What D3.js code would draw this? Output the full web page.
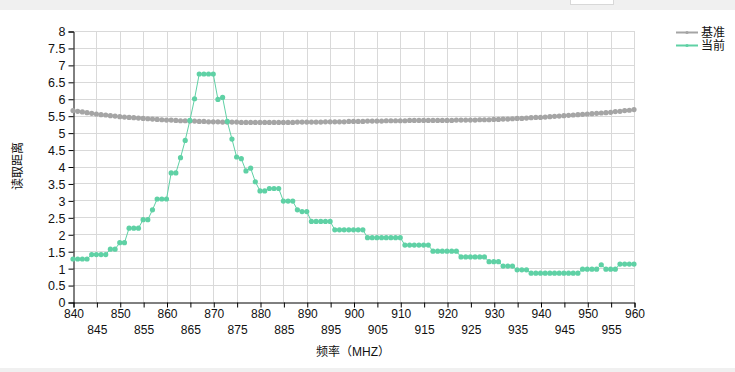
<!DOCTYPE html>
<html><head><meta charset="utf-8">
<script src="https://cdn.jsdelivr.net/npm/d3@7/dist/d3.min.js"></script>
<style>
html,body{margin:0;padding:0;background:#fff;}
svg{display:block;}
text{font-family:"Liberation Sans","Noto Sans CJK SC",sans-serif;}
</style></head>
<body><svg id="c" width="735" height="372"></svg>
<script>
const freqStart = 840, freqEnd = 960;
const seriesNames = ["基准", "当前"];
const seriesColors = ["#a5a5a5", "#5fd1a5"];
const yTicks = d3.range(0, 8.001, 0.5);
const xTicks = d3.range(840, 960.001, 5);
const xTitle = "频率（MHZ）";
const yTitle = "读取距离";

const baseline = [
5.65,5.63,5.61,5.59,5.57,5.55,5.53,5.52,5.50,5.49,
5.47,5.46,5.45,5.44,5.43,5.42,5.41,5.40,5.39,5.38,
5.37,5.37,5.36,5.35,5.35,5.34,5.34,5.33,5.33,5.32,
5.32,5.32,5.31,5.31,5.31,5.31,5.30,5.30,5.30,5.30,
5.30,5.30,5.30,5.30,5.30,5.30,5.30,5.30,5.31,5.31,
5.31,5.31,5.31,5.31,5.32,5.32,5.32,5.32,5.32,5.33,
5.33,5.33,5.33,5.34,5.34,5.34,5.34,5.35,5.35,5.35,
5.35,5.35,5.36,5.36,5.36,5.36,5.36,5.36,5.36,5.36,
5.36,5.36,5.37,5.37,5.37,5.37,5.37,5.38,5.38,5.38,
5.39,5.39,5.40,5.40,5.41,5.42,5.42,5.43,5.44,5.45,
5.45,5.46,5.47,5.48,5.49,5.50,5.51,5.52,5.53,5.54,
5.55,5.56,5.57,5.58,5.59,5.60,5.62,5.63,5.65,5.66,
5.68];

const current = [
1.27,1.27,1.27,1.27,1.40,1.40,1.40,1.40,1.56,1.56,
1.75,1.75,2.18,2.18,2.18,2.43,2.43,2.72,3.04,3.04,
3.04,3.81,3.81,4.26,4.77,5.36,6.00,6.73,6.73,6.73,
6.73,5.98,6.04,5.33,4.81,4.28,4.23,3.87,3.95,3.55,
3.28,3.28,3.35,3.35,3.35,2.98,2.98,2.98,2.72,2.67,
2.67,2.38,2.38,2.38,2.38,2.38,2.13,2.13,2.13,2.13,
2.13,2.13,2.13,1.90,1.90,1.90,1.90,1.90,1.90,1.90,
1.90,1.68,1.68,1.68,1.68,1.68,1.68,1.50,1.50,1.50,
1.50,1.50,1.50,1.33,1.33,1.33,1.33,1.33,1.33,1.19,
1.19,1.19,1.06,1.06,1.06,0.95,0.95,0.95,0.85,0.85,
0.85,0.85,0.85,0.85,0.85,0.85,0.85,0.85,0.85,0.97,
0.97,0.97,0.97,1.10,0.97,0.97,0.97,1.12,1.12,1.12,
1.12];

const freqs = d3.range(freqStart, freqEnd + 1, 1);
const svg = d3.select("#c");
const W = 735, H = 372;
const m = {l:73, r:634, t:31, b:302};

// window chrome
svg.append("rect").attr("x",0).attr("y",0).attr("width",W).attr("height",10).attr("fill","#f0f0f0");
svg.append("rect").attr("x",570.5).attr("y",-1).attr("width",43).attr("height",5.5).attr("fill","#fff").attr("stroke","#d8d8d8");
svg.append("rect").attr("x",0).attr("y",368).attr("width",W).attr("height",4).attr("fill","#f0f0f0");

const x = d3.scaleLinear().domain([freqStart, freqEnd]).range([m.l, m.r]);
const y = d3.scaleLinear().domain([0, 8]).range([m.b, m.t]);

// grid
const g = svg.append("g");
g.selectAll(".gx").data(xTicks.slice(1)).enter().append("line")
  .attr("x1",d=>Math.round(x(d))+0.5).attr("x2",d=>Math.round(x(d))+0.5)
  .attr("y1",m.t).attr("y2",m.b).attr("stroke","#d9d9d9");
g.selectAll(".gy").data(yTicks.slice(1)).enter().append("line")
  .attr("y1",d=>Math.round(y(d))+0.5).attr("y2",d=>Math.round(y(d))+0.5)
  .attr("x1",m.l).attr("x2",m.r).attr("stroke","#d9d9d9");

// axes
const yAxis = d3.axisLeft(y).tickValues(yTicks).tickSize(5).tickPadding(3).tickFormat(d3.format("~g"));
const ya = svg.append("g").attr("transform",`translate(${m.l+0.5},0.5)`).call(yAxis);
ya.select(".domain").attr("stroke","#000");
ya.selectAll("text").attr("font-size","12.5px").attr("fill","#111").attr("dy","0.35em");

const xAxis = d3.axisBottom(x).tickValues(xTicks).tickSize(5).tickPadding(3).tickFormat(d3.format("d"));
const xa = svg.append("g").attr("transform",`translate(0.5,${m.b+0.5})`).call(xAxis);
xa.select(".domain").attr("stroke","#000");
xa.selectAll("text").attr("font-size","12px").attr("fill","#111")
  .attr("y", (d)=> ((d-840)%10===0) ? 7 : 23);

svg.append("text").attr("x",353).attr("y",356).attr("text-anchor","middle")
  .attr("font-size","12px").attr("fill","#111").text(xTitle);
svg.append("text").attr("transform","translate(22,166) rotate(-90)").attr("text-anchor","middle")
  .attr("font-size","12px").attr("fill","#111").text(yTitle);

// series
const seriesData = [baseline, current];
const line = d3.line().x((d,i)=>x(freqs[i])).y(d=>y(d));
seriesData.forEach((vals,k)=>{
  const sg = svg.append("g");
  sg.append("path").datum(vals).attr("d",line).attr("fill","none")
    .attr("stroke",seriesColors[k]).attr("stroke-width",1);
  sg.selectAll("circle").data(vals).enter().append("circle")
    .attr("cx",(d,i)=>x(freqs[i])).attr("cy",d=>y(d)).attr("r",2.6)
    .attr("fill",seriesColors[k]);
});

// legend
const lg = svg.append("g");
seriesNames.forEach((n,k)=>{
  const yy = 32 + k*13;
  lg.append("line").attr("x1",676).attr("x2",698).attr("y1",yy+0.5).attr("y2",yy+0.5)
    .attr("stroke",seriesColors[k]).attr("stroke-width",2);
  lg.append("circle").attr("cx",687).attr("cy",yy+0.5).attr("r",1.6).attr("fill",seriesColors[k]);
  lg.append("text").attr("x",701).attr("y",yy+4.5).attr("font-size","12px").attr("fill","#111").text(n);
});
</script></body></html>
